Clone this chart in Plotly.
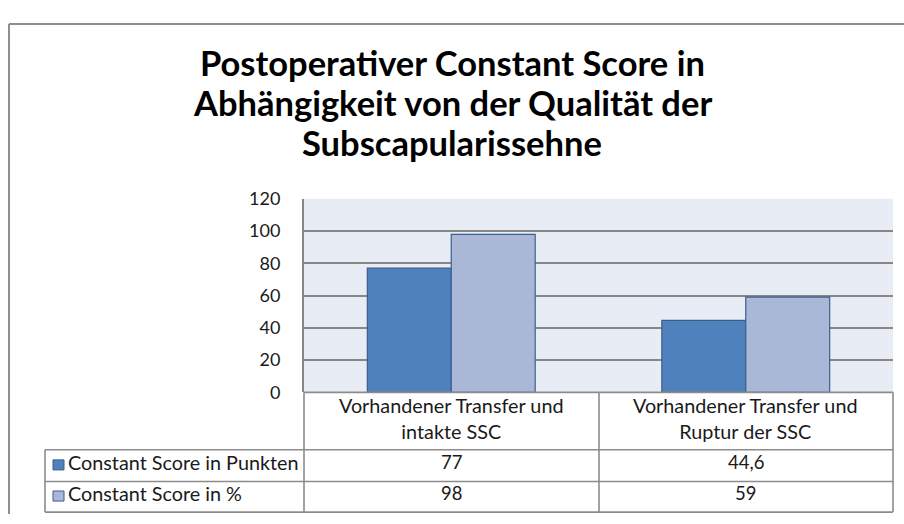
import plotly.graph_objects as go

# --- data -------------------------------------------------------------
categories = [
    "Vorhandener Transfer und<br>intakte SSC",
    "Vorhandener Transfer und<br>Ruptur der SSC",
]
series_names = ["Constant Score in Punkten", "Constant Score in %"]
score_points = [77, 44.6]
score_percent = [98, 59]
y_ticks = [0, 20, 40, 60, 80, 100, 120]

title_lines = [
    "Postoperativer Constant Score in",
    "Abhängigkeit von der Qualität der",
    "Subscapularissehne",
]

# --- styling ----------------------------------------------------------
W, H = 904, 524
bar_colors = ["#4F81BD", "#A9B8D7"]
bar_edge = "#3A5F8D"
grid_color = "#878787"
table_line = "#8C8C8C"
plot_bg = "#E8ECF4"
FONT = "Lato"
TXT = "#1a1a1a"


def px_x(x):
    return x / W


def px_y(y):
    return 1 - y / H


plot_left, plot_right = 304, 893
plot_top, plot_bottom = 195, 397
table_left = 45
header_bottom = 457
row1_bottom = 490
row2_bottom = 522
col_split = 599
text_lift = 3.8          # baseline correction for table text

fig = go.Figure()
for name, vals, col in zip(series_names, [score_points, score_percent], bar_colors):
    fig.add_trace(go.Bar(
        x=[0, 1], y=vals, name=name,
        marker=dict(color=col, line=dict(color=bar_edge, width=1.2)),
        hoverinfo="y",
    ))


def fmt(v):
    return f"{v:g}".replace(".", ",")


shapes = []
annotations = []

# outer chart frame (left and top edges lie inside the page)
frame = dict(color="#8E8E8E", width=2)
shapes.append(dict(type="line", xref="paper", yref="paper",
                   x0=px_x(9), x1=1, y0=px_y(12.5), y1=px_y(12.5), line=frame))
shapes.append(dict(type="line", xref="paper", yref="paper",
                   x0=px_x(9), x1=px_x(9), y0=0, y1=px_y(12.5), line=frame))

# data table grid
hl = dict(color=table_line, width=1.6)
for yv in [plot_bottom, header_bottom, row1_bottom, row2_bottom]:
    x_start = plot_left if yv == plot_bottom else table_left
    shapes.append(dict(type="line", xref="paper", yref="paper",
                       x0=px_x(x_start), x1=px_x(plot_right),
                       y0=px_y(yv), y1=px_y(yv), line=hl))
for xv, top in [(table_left, header_bottom), (plot_left, plot_bottom),
                (col_split, plot_bottom), (plot_right, plot_bottom)]:
    shapes.append(dict(type="line", xref="paper", yref="paper",
                       x0=px_x(xv), x1=px_x(xv),
                       y0=px_y(row2_bottom), y1=px_y(top), line=hl))

# category labels in the table header
for i, cat in enumerate(categories):
    annotations.append(dict(x=i, xref="x",
                            y=px_y((plot_bottom + header_bottom) / 2 - 3.5),
                            yref="paper", text=cat, showarrow=False,
                            xanchor="center", yanchor="middle",
                            font=dict(family=FONT, size=19.8, color=TXT)))

# table rows: legend key + name + values
row_centers = [(header_bottom + row1_bottom) / 2, (row1_bottom + row2_bottom) / 2]
for name, vals, col, yc in zip(series_names, [score_points, score_percent],
                               bar_colors, row_centers):
    shapes.append(dict(type="rect", xref="paper", yref="paper",
                       x0=px_x(53), x1=px_x(64), y0=px_y(yc + 4.5), y1=px_y(yc - 6),
                       fillcolor=col, line=dict(color=bar_edge, width=1)))
    annotations.append(dict(x=px_x(66), xref="paper", y=px_y(yc - text_lift),
                            yref="paper", text=name, showarrow=False,
                            xanchor="left", yanchor="middle",
                            font=dict(family=FONT, size=19.8, color=TXT)))
    for i, v in enumerate(vals):
        annotations.append(dict(x=i, xref="x", y=px_y(yc - text_lift), yref="paper",
                                text=fmt(v), showarrow=False, xanchor="center",
                                yanchor="middle",
                                font=dict(family=FONT, size=18.5, color=TXT)))

# title, one annotation per line
for line, yc in zip(title_lines, [53, 94, 136]):
    annotations.append(dict(x=px_x(452), xref="paper", y=px_y(yc), yref="paper",
                            text=f"<b>{line}</b>", showarrow=False,
                            xanchor="center", yanchor="middle",
                            font=dict(family=FONT, size=34.5, color="#000000")))

fig.update_layout(
    width=W, height=H,
    margin=dict(l=0, r=0, t=0, b=0),
    paper_bgcolor="white",
    plot_bgcolor=plot_bg,
    barmode="group",
    bargap=0.43,
    bargroupgap=0,
    showlegend=False,
    shapes=shapes,
    annotations=annotations,
    xaxis=dict(domain=[px_x(plot_left), px_x(plot_right)], range=[-0.5, 1.5],
               showticklabels=False, showgrid=False, zeroline=False,
               showline=False, fixedrange=True),
    yaxis=dict(domain=[px_y(plot_bottom), px_y(plot_top)], range=[0, 120],
               tickvals=y_ticks, showgrid=True, gridcolor=grid_color, gridwidth=1.6,
               zeroline=False, showline=True, linecolor=grid_color, linewidth=2,
               ticks="", ticklabelstandoff=18,
               tickfont=dict(family=FONT, size=18, color=TXT),
               fixedrange=True),
)

fig.write_html("out.html", config={"displayModeBar": False})
